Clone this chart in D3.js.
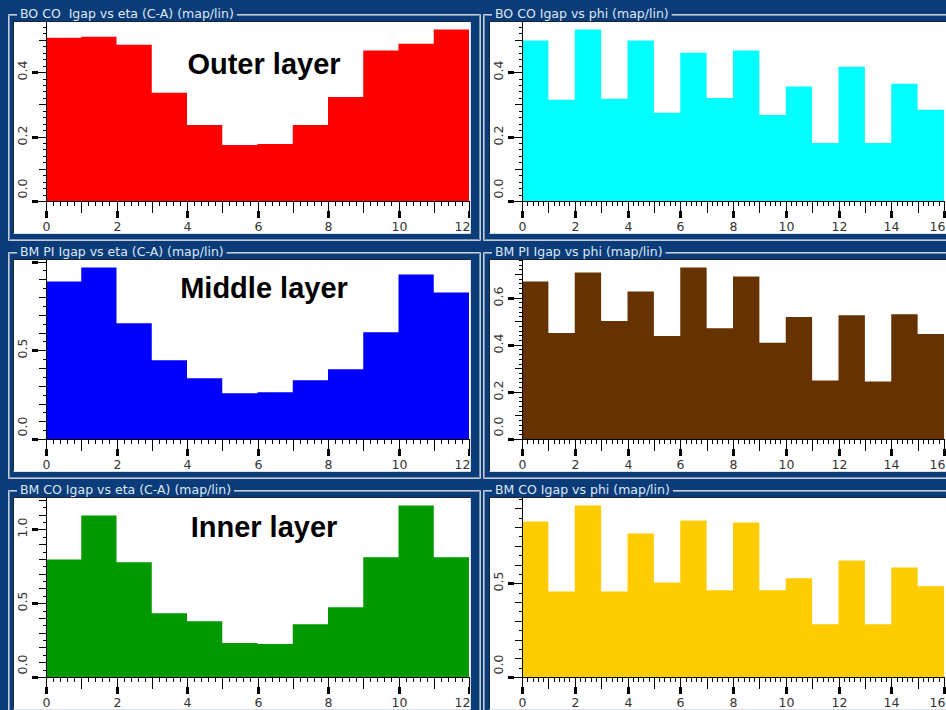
<!DOCTYPE html>
<meta charset="utf-8">
<title>Igap per layer</title>
<style>
body { margin: 0; background: #0b3c7a; }
svg { display: block; }
.ttl { font-family: "DejaVu Sans", sans-serif; font-size: 12.5px; fill: #dfe8f4; white-space: pre; }
.tick-label { font-family: "DejaVu Sans", sans-serif; font-size: 12.5px; fill: #333; }
.layer { font-family: "Liberation Sans", Arial, sans-serif; font-weight: bold; font-size: 29px; fill: #000; }
</style>
<body>
<svg width="946" height="710" id="svg"></svg>
<script src="https://d3js.org/d3.v7.min.js"></script>
<script>

// ---- data ----
var panelTitles = [
  "BO CO  Igap vs eta (C-A) (map/lin)", "BO CO Igap vs phi (map/lin)",
  "BM PI Igap vs eta (C-A) (map/lin)",  "BM PI Igap vs phi (map/lin)",
  "BM CO Igap vs eta (C-A) (map/lin)",  "BM CO Igap vs phi (map/lin)"
];
var layerLabels = ["Outer layer", "Middle layer", "Inner layer"];

var outerEta  = [0.507, 0.510, 0.485, 0.336, 0.236, 0.174, 0.177, 0.236, 0.323, 0.467, 0.488, 0.532];
var outerPhi  = [0.498, 0.314, 0.532, 0.317, 0.498, 0.274, 0.460, 0.320, 0.467, 0.267, 0.355, 0.180, 0.417, 0.180, 0.364, 0.283];
var middleEta = [0.888, 0.966, 0.652, 0.444, 0.343, 0.258, 0.264, 0.331, 0.393, 0.601, 0.927, 0.826];
var middlePhi = [0.668, 0.450, 0.706, 0.500, 0.626, 0.437, 0.727, 0.470, 0.689, 0.408, 0.517, 0.248, 0.525, 0.244, 0.529, 0.445];
var innerEta  = [0.797, 1.095, 0.777, 0.432, 0.378, 0.230, 0.223, 0.358, 0.473, 0.811, 1.162, 0.811];
var innerPhi  = [0.830, 0.457, 0.915, 0.457, 0.766, 0.505, 0.835, 0.463, 0.824, 0.463, 0.527, 0.282, 0.622, 0.282, 0.585, 0.484];

var seriesValues = [outerEta, outerPhi, middleEta, middlePhi, innerEta, innerPhi];
var barColors = ["#ff0000", "#00ffff", "#0000ff", "#663300", "#009900", "#ffcc00"];
// y tick steps per panel: [labelled, medium, minor]
var yTickSteps = [
  [0.2, 0.1, 0.02], [0.2, 0.1, 0.02],
  [0.5, 0.1, 0.05], [0.2, 0.1, 0.02],
  [0.5, 0.1, 0.05], [0.5, 0.1, 0.05]
];

// ---- layout ----
var cols = [
  { frameX0: 8,   frameX1: 480, whiteX0: 14,  whiteX1: 470, axisX0: 46,  axisX1: 469, titleX: 20 },
  { frameX0: 483, frameX1: 960, whiteX0: 490, whiteX1: 960, axisX0: 522, axisX1: 944, titleX: 495 }
];
var rowPitch = 238;
var frameH = 180;
var layerLabelY = [74, 298, 537];

var svg = d3.select("svg");

seriesValues.forEach(function(values, i) {
  var c = cols[i % 2], r = Math.floor(i / 2);
  var titleY = 14 + r * rowPitch,
      whiteY0 = 22 + r * rowPitch,
      whiteY1 = 233 + r * rowPitch,
      frameY1 = 240 + r * rowPitch,
      axisY = 201 + r * rowPitch;

  var g = svg.append("g");

  // group frame (groove look)
  var title = g.append("text").attr("class", "ttl")
      .attr("x", c.titleX).attr("y", titleY + 4).text(panelTitles[i]);
  var tw = title.node().getComputedTextLength();
  [["#c3cbd8", 0], ["#7f93b3", 1]].forEach(function(s) {
    var o = s[1];
    g.append("path")
        .attr("fill", "none").attr("stroke", s[0]).attr("stroke-width", 1)
        .attr("d", "M" + (c.titleX - 3) + "," + (titleY + 0.5 + o) + "H" + (c.frameX0 + 0.5 + o) +
                   "V" + (frameY1 + 0.5 - o) + "H" + (c.frameX1 + 0.5 - o) + "V" + (titleY + 0.5 + o) +
                   "H" + (c.titleX + tw + 3));
  });

  // canvas
  g.append("rect").attr("x", c.whiteX0).attr("y", whiteY0)
      .attr("width", c.whiteX1 - c.whiteX0).attr("height", whiteY1 - whiteY0)
      .attr("fill", "#fff");
  g.append("path").attr("fill", "none").attr("stroke", "#1c2434")
      .attr("d", "M" + (c.whiteX0 - 0.5) + "," + (whiteY1) + "V" + (whiteY0 - 0.5) + "H" + c.whiteX1);
  g.append("path").attr("fill", "none").attr("stroke", "#d8dde6")
      .attr("d", "M" + (c.whiteX0 - 0.5) + "," + (whiteY1 + 0.5) + "H" + (c.whiteX1 + 0.5) + "V" + whiteY0);

  var clipId = "clip" + i;
  g.append("clipPath").attr("id", clipId).append("rect")
      .attr("x", c.whiteX0).attr("y", whiteY0)
      .attr("width", c.whiteX1 - c.whiteX0).attr("height", whiteY1 - whiteY0);
  var p = g.append("g").attr("clip-path", "url(#" + clipId + ")");

  var n = values.length;
  var x = d3.scaleLinear().domain([0, n]).range([c.axisX0, c.axisX1]);
  var y = d3.scaleLinear().domain([0, d3.max(values) * 1.05]).range([axisY, axisY - frameH]);

  // histogram as one stepped area
  var pts = values.map(function(v, k) { return [k, v]; }).concat([[n, values[n - 1]]]);
  var area = d3.area()
      .curve(d3.curveStepAfter)
      .x(function(d) { return x(d[0]); })
      .y0(axisY)
      .y1(function(d) { return y(d[1]); });
  p.append("path").datum(pts).attr("d", area).attr("fill", barColors[i]);

  // x axis
  var eps = 1e-6;
  p.append("line").attr("x1", c.axisX0).attr("x2", c.axisX1 + 1)
      .attr("y1", axisY + 0.5).attr("y2", axisY + 0.5).attr("stroke", "#000");
  d3.range(0, n + eps, 0.2).forEach(function(v) {
    var k = Math.round(v * 5);
    var len = (k % 10 === 0) ? 17 : (k % 5 === 0 ? 12 : 5);
    var xx = Math.round(x(v)) + 0.5;
    p.append("line").attr("x1", xx).attr("x2", xx)
        .attr("y1", axisY).attr("y2", axisY + len).attr("stroke", "#000");
    if (k % 10 === 0) {
      p.append("line").attr("x1", xx).attr("x2", xx)
          .attr("y1", axisY + 10).attr("y2", axisY + 17)
          .attr("stroke", "#000").attr("stroke-width", 3);
      var last = Math.abs(v - n) < eps;
      p.append("text").attr("class", "tick-label")
          .attr("x", last ? xx + 1 : xx).attr("y", axisY + 30)
          .attr("text-anchor", last ? "end" : "middle").text(d3.format("d")(v));
    }
  });

  // y axis
  var st = yTickSteps[i], yMax = y.domain()[1];
  p.append("line").attr("x1", c.axisX0 + 0.5).attr("x2", c.axisX0 + 0.5)
      .attr("y1", axisY + 1).attr("y2", y(yMax)).attr("stroke", "#000");
  d3.range(0, yMax + eps, st[2]).forEach(function(v) {
    var yy = Math.round(y(v)) + 0.5;
    var isMajor = Math.abs(v / st[0] - Math.round(v / st[0])) < 1e-6;
    var isMed = Math.abs(v / st[1] - Math.round(v / st[1])) < 1e-6;
    var len = isMajor ? 14 : (isMed ? 7 : 3);
    p.append("line").attr("x1", c.axisX0 - len).attr("x2", c.axisX0)
        .attr("y1", yy).attr("y2", yy).attr("stroke", "#000");
    if (isMajor) {
      p.append("line").attr("x1", c.axisX0 - 14).attr("x2", c.axisX0 - 8)
          .attr("y1", yy).attr("y2", yy).attr("stroke", "#000").attr("stroke-width", 3);
      if (yy - (axisY - frameH) < 8) return; // too close to the top edge for a label
      var ly = v === 0 ? yy - 13 : yy - 2;
      p.append("text").attr("class", "tick-label")
          .attr("transform", "translate(" + (c.axisX0 - 19) + "," + ly + ") rotate(-90)")
          .attr("text-anchor", "middle").text(d3.format(".1f")(v));
    }
  });

  if (i % 2 === 0) {
    g.append("text").attr("class", "layer")
        .attr("x", 264).attr("y", layerLabelY[r])
        .attr("text-anchor", "middle").text(layerLabels[r]);
  }
});

</script>
</body>
